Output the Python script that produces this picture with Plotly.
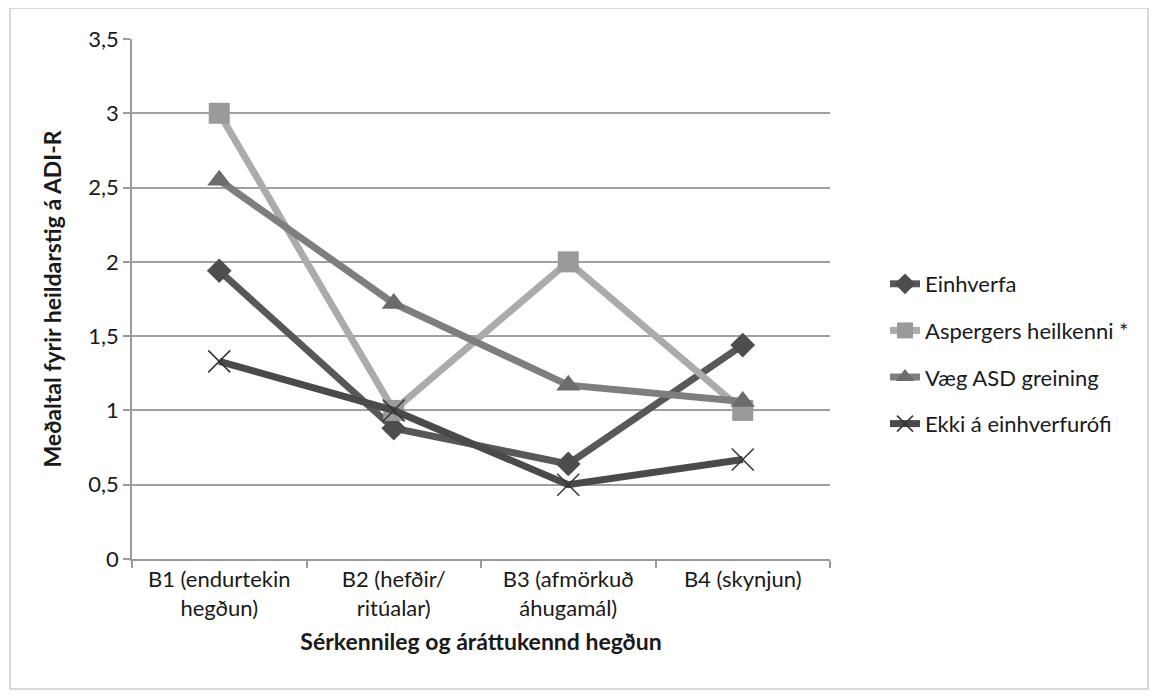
import plotly.graph_objects as go

categories = ["B1 (endurtekin<br>hegðun)", "B2 (hefðir/<br>ritúalar)", "B3 (afmörkuð<br>áhugamál)", "B4 (skynjun)"]
einhverfa = [1.94, 0.88, 0.64, 1.44]
aspergers = [3.0, 1.0, 2.0, 1.0]
vaeg_asd = [2.55, 1.72, 1.17, 1.06]
ekki = [1.33, 1.0, 0.5, 0.67]

series_names = ["Einhverfa", "Aspergers heilkenni *", "Væg ASD greining", "Ekki á einhverfurófi"]

# page body has an 8px margin; figure coordinates are screen minus 8
OFF = 8
W, H = 1142, 682
L, R, T, B = 132 - OFF, 830 - OFF, 39 - OFF, 559 - OFF

font = "Lato, 'Open Sans', sans-serif"
fig = go.Figure()
fig.add_trace(go.Scatter(x=categories, y=einhverfa, name=series_names[0], legendgroup="a", mode="lines+markers",
                         line=dict(color="#585858", width=7),
                         marker=dict(symbol="diamond", size=19, color="#4d4d4d")))
fig.add_trace(go.Scatter(x=categories, y=aspergers, name=series_names[1], legendgroup="b", mode="lines+markers",
                         line=dict(color="#ababab", width=7),
                         marker=dict(symbol="square", size=21, color="#9a9a9a")))
fig.add_trace(go.Scatter(x=categories, y=vaeg_asd, name=series_names[2], legendgroup="c", mode="lines+markers",
                         line=dict(color="#7e7e7e", width=7),
                         marker=dict(symbol="triangle-up", size=21, color="#6c6c6c")))
fig.add_trace(go.Scatter(x=categories, y=ekki, name=series_names[3], legendgroup="d", mode="lines+markers",
                         line=dict(color="#4a4a4a", width=7),
                         marker=dict(symbol="x-thin", size=22, line=dict(width=1.5, color="#333333"), color="#333333")))

fig.update_layout(
    width=W, height=H,
    margin=dict(l=L, r=W - R, t=T, b=H - B, autoexpand=False),
    paper_bgcolor="white", plot_bgcolor="white",
    font=dict(family=font, size=22, color="#1a1a1a"),
    showlegend=True,
    legend=dict(x=(885 - OFF - L) / (R - L), y=(B - (354 - OFF)) / (B - T), yanchor="middle", xanchor="left",
                font=dict(size=22, family=font, color="#1a1a1a"),
                tracegroupgap=15, bgcolor="rgba(0,0,0,0)"),
    xaxis=dict(type="category", showgrid=False, showline=True, linecolor="#9a9a9a", linewidth=1.5,
               ticks="outside", tickson="boundaries", ticklen=7, tickcolor="#9a9a9a", tickwidth=1.5,
               tickfont=dict(size=22, family=font, color="#1a1a1a"),
               title=dict(text="<b>Sérkennileg og áráttukennd hegðun</b>", font=dict(size=23, family=font), standoff=14),
               range=[-0.5, 3.5]),
    yaxis=dict(range=[0, 3.5], dtick=0.5, showgrid=True, gridcolor="#a0a0a0", gridwidth=1.5,
               showline=True, linecolor="#9a9a9a", linewidth=1.5, ticks="outside", ticklen=7,
               tickcolor="#9a9a9a", tickwidth=1.5,
               tickfont=dict(size=22, family=font, color="#1a1a1a"), zeroline=False,
               title=dict(text="<b>Meðaltal fyrir heildarstig á ADI-R</b>", font=dict(size=23, family=font), standoff=20)),
    separators=", ",
)

px = lambda x: (x - OFF - L) / (R - L)
py = lambda y: (B - (y - OFF)) / (B - T)
fig.add_shape(type="rect", xref="paper", yref="paper", x0=px(10), x1=px(1148), y0=py(689), y1=py(8),
              line=dict(color="#b0b0b0", width=1), fillcolor="rgba(0,0,0,0)", layer="below")

fig.write_html("out.html")
